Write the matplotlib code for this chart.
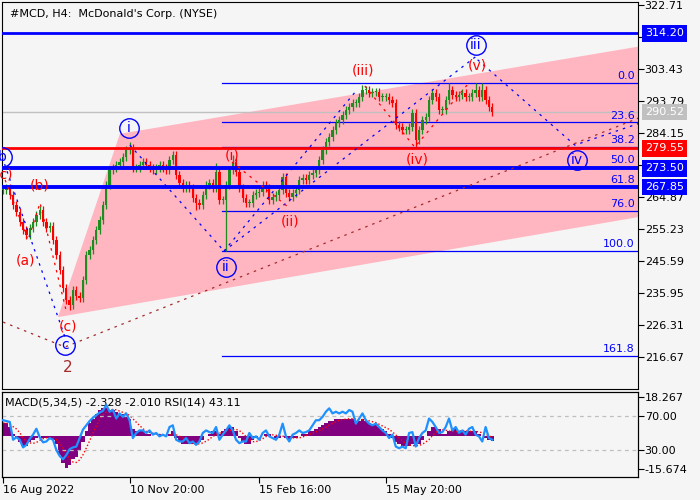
import numpy as np
import pandas as pd
import matplotlib
matplotlib.use("Agg")
import matplotlib.pyplot as plt
from matplotlib.patches import Polygon

# H4 closes, one every ~3 bars
closes = [267.0, 267.6, 265.5, 262.5, 260.4, 257.4, 254.9, 253.4, 255.5, 257.4,
          259.5, 261.0, 257.4, 255.5, 256.2, 251.9, 247.4, 242.9, 237.5, 233.9,
          232.4, 236.9, 235.1, 234.5, 239.9, 247.4, 248.9, 251.9, 254.9, 258.0,
          262.5, 268.5, 273.0, 273.6, 274.5, 275.4, 276.9, 279.0, 279.6, 273.6,
          273.6, 274.5, 275.4, 274.5, 273.6, 273.0, 273.6, 274.5, 273.6, 273.0,
          276.0, 277.5, 271.5, 269.1, 267.6, 268.5, 267.6, 264.6, 263.1, 262.5,
          265.5, 268.5, 269.1, 267.6, 272.4, 264.0, 264.0, 268.5, 273.0, 275.4,
          272.4, 267.6, 264.6, 263.1, 263.1, 265.5, 266.1, 266.4, 268.5, 267.6,
          264.0, 264.9, 265.5, 267.0, 270.9, 266.1, 264.9, 266.1, 267.0, 270.0,
          270.6, 270.0, 271.5, 272.1, 273.0, 276.0, 279.0, 281.5, 283.0, 285.1,
          287.2, 288.1, 289.6, 291.1, 292.0, 293.2, 293.2, 295.0, 297.1, 297.1,
          296.2, 296.5, 296.5, 295.0, 295.0, 295.0, 294.1, 293.2, 286.6, 286.0,
          285.1, 285.1, 286.0, 290.2, 282.1, 285.1, 288.1, 289.0, 294.1, 296.2,
          295.0, 291.1, 291.1, 294.1, 297.1, 295.6, 295.0, 295.6, 296.2, 295.0,
          295.0, 296.2, 297.1, 295.0, 297.1, 294.1, 292.0, 290.5]
spike_lows = {20: 230.8, 67: 248.6, 124: 279.9, 58: 261.0}
spike_highs = {38: 281.4, 51: 278.6, 64: 275.2, 69: 277.6, 108: 298.6,
               134: 299.2, 142: 299.3, 144: 299.2}

macd = [6, 6, 4, 1, -1, -3, -5, -5, -3, -2,
        -1, 0, -1, -1, -1, -2, -4, -9, -13, -15,
        -14, -11, -10, -7, -3, 2, 6, 8, 10, 12,
        13, 13, 12, 12, 11, 10, 10, 9, 8, 3,
        2, 2, 2, 1, 1, 0, 0, 1, 0, 0,
        1, 2, -1, -3, -4, -4, -4, -4, -4, -3,
        -2, 0, 1, 2, 2, 1, 2, 3, 4, 4,
        2, -1, -3, -4, -4, -2, -1, 0, 0, 1,
        1, 0, -1, -1, 0, -1, -2, -1, -1, 0,
        1, 1, 2, 2, 3, 4, 5, 6, 7, 7,
        8, 8, 8, 8, 8, 8, 7, 7, 8, 7,
        6, 5, 5, 4, 3, 2, 1, -1, -3, -4,
        -5, -5, -5, -4, -5, -4, -2, 0, 2, 4,
        4, 3, 1, 1, 2, 3, 3, 2, 2, 2,
        2, 2, 2, 1, 0, -1, -2, -2.3]
rsi = [65, 64, 63, 42, 45, 42, 33, 36, 43, 48,
       55, 45, 39, 40, 44, 42, 30, 23, 19, 24,
       31, 33, 34, 44, 54, 59, 64, 68, 71, 74,
       76, 83, 75, 77, 67, 73, 69, 73, 65, 44,
       50, 53, 53, 50, 53, 48, 50, 46, 48, 46,
       57, 59, 42, 40, 40, 44, 38, 40, 36, 40,
       50, 53, 51, 50, 57, 42, 48, 53, 59, 53,
       42, 38, 40, 40, 50, 44, 46, 42, 50, 53,
       46, 44, 42, 48, 61, 46, 40, 48, 50, 53,
       50, 51, 53, 59, 65, 65, 69, 75, 79, 73,
       75, 73, 75, 73, 77, 75, 61, 67, 73, 65,
       61, 59, 61, 57, 53, 50, 44, 48, 34, 32,
       34, 32, 50, 51, 34, 44, 50, 53, 67, 63,
       57, 50, 51, 57, 67, 53, 57, 50, 53, 48,
       55, 57, 48, 46, 40, 57, 44, 42]

date_pos = [0, 38, 77, 115]
date_labels = ["16 Aug 2022", "10 Nov 20:00", "15 Feb 16:00", "15 May 20:00"]
price_ticks = [322.71, 313.07, 303.43, 293.79, 284.15, 274.51, 264.87,
               255.23, 245.59, 235.95, 226.31, 216.67]

levels = [314.20, 279.55, 273.50, 267.85]
level_colors = ["#0000FF", "#FF0000", "#0000FF", "#0000FF"]
level_widths = [2.0, 2.0, 2.8, 2.8]
last_price = 290.52

fib_start = 65.8
fib_top, fib_bottom = 299.3, 248.5
fib_ratios = [0.0, 23.6, 38.2, 50.0, 61.8, 76.0, 100.0, 161.8]

channel_x = [16.5, 35.1, 200.0, 200.0]
channel_y = [228.7, 283.9, 311.7, 260.4]

blue_waves = [([-0.3, 18.9], [276.9, 221.8]),
              ([38.1, 66.4], [280.5, 248.6]),
              ([66.4, 106.3], [248.6, 297.1]),
              ([66.4, 142.6], [248.6, 307.6]),
              ([142.6, 171.8, 191.3], [306.2, 280.5, 287.1])]
red_waves = [([0.6, 7.5, 11.1, 18.9], [270.0, 251.9, 263.1, 230.8]),
             ([68.8, 85.6], [275.4, 261.9]),
             ([108.7, 123.7, 140.2], [298.3, 279.9, 299.5])]
brown_x = [0.0, 18.6, 191.3]
brown_y = [227.2, 219.7, 288.8]

circle_labels = ["b", "c", "i", "ii", "iii", "iv"]
circle_x = [-0.2, 18.6, 37.8, 67.0, 142.0, 172.4]
circle_y = [276.9, 220.3, 285.7, 243.8, 310.7, 276.0]
red_labels = ["(c)", "(a)", "(b)", "(c)", "(i)", "(ii)", "(iii)", "(iv)", "(v)"]
red_x = [0.3, 6.6, 11.1, 19.5, 68.8, 86.2, 108.1, 124.6, 142.6]
red_y = [271.5, 245.9, 268.2, 226.0, 277.5, 257.4, 303.1, 276.3, 304.6]

bg = "#F5F5F5"
fig = plt.figure(figsize=(7, 5), dpi=100, facecolor=bg)
ax = fig.add_axes([0.003, 0.222, 0.908, 0.774], facecolor=bg)
ax2 = fig.add_axes([0.003, 0.046, 0.908, 0.170], facecolor=bg)

n = len(closes)
x = np.arange(n)
c = np.array(closes)
o = np.r_[c[0], c[:-1]]
hi = np.maximum(o, c) + 1.2
lo = np.minimum(o, c) - 1.2
for k, v in spike_lows.items():
    lo[k] = v
for k, v in spike_highs.items():
    hi[k] = v
up = c >= o
col = np.where(up, "#1E8C1E", "#FF0000")

ax.add_patch(Polygon(list(zip(channel_x, channel_y)), closed=True,
                     fc="#FFB6C1", ec="none", zorder=1))

for r in fib_ratios:
    p = fib_top - (fib_top - fib_bottom) * r / 100
    ax.plot([fib_start, 200], [p, p], color="#0000FF", lw=0.9, zorder=2)
    ax.text(189.8, p + 0.6, f"{r:.1f}", color="#0000FF", fontsize=8,
            ha="right", va="bottom", zorder=6)

ax.axhline(last_price, color="#C0C0C0", lw=1, zorder=2)

ax.vlines(x, lo, hi, colors=col, lw=0.9, zorder=3)
body = np.abs(c - o)
body = np.maximum(body, 0.4)
ax.bar(x, body, bottom=np.minimum(o, c), width=0.7, color=col, zorder=3)

for lv, lc, lw in zip(levels, level_colors, level_widths):
    ax.axhline(lv, color=lc, lw=lw, zorder=4)

for wx, wy in blue_waves:
    ax.plot(wx, wy, color="#0000FF", lw=0.9, ls=(0, (2, 4)), zorder=5)
for wx, wy in red_waves:
    ax.plot(wx, wy, color="#FF0000", lw=0.9, ls=(0, (2, 4)), zorder=5)
ax.plot(brown_x, brown_y, color="#A52A2A", lw=0.9, ls=(0, (2, 4)), zorder=5)

for t, cx, cy in zip(circle_labels, circle_x, circle_y):
    ax.plot(cx, cy, marker="o", ms=14, mfc="none", mec="#0000FF", mew=1, zorder=6)
    ax.text(cx, cy, t, color="#0000FF", fontsize=10, ha="center", va="center", zorder=6)
for t, rx, ry in zip(red_labels, red_x, red_y):
    ax.text(rx, ry, t, color="#FF0000", fontsize=10, ha="center", va="center", zorder=6)
ax.text(19.5, 213.4, "2", color="#A52A2A", fontsize=11, ha="center", va="center", zorder=6)

ax.text(0.012, 0.982, "#MCD, H4:  McDonald's Corp. (NYSE)", transform=ax.transAxes,
        fontsize=8, ha="left", va="top", zorder=7)

ax.set_xlim(-0.3, 190.7)
ax.set_ylim(207.05, 323.6)
ax.yaxis.tick_right()
ax.set_yticks(price_ticks)
ax.set_yticklabels([f"{p:.2f}" for p in price_ticks])
ax.tick_params(axis="y", labelsize=8, length=4, direction="out", pad=1)
ax.set_xticks([])

for val, bc in zip(levels + [last_price], level_colors + ["#C0C0C0"]):
    ax.text(1.0115, val, f"{val:.2f}", transform=ax.get_yaxis_transform(),
            color="white", fontsize=8, ha="left", va="center", zorder=10,
            clip_on=False, bbox=dict(boxstyle="square,pad=0.3", fc=bc, ec="none"))

# indicator window
m = np.array(macd, dtype=float)
sig = pd.Series(m).rolling(5, min_periods=1).mean()
ax2.bar(x, m, width=1.0, color="#800080", zorder=2)
ax2.plot(x, sig, color="#FF0000", lw=1, ls=(0, (1, 1.5)), zorder=3)
ax2.set_ylim(-19.45, 20.6)
ax2.set_xlim(-0.3, 190.7)

ax3 = ax2.twinx()
ax3.set_ylim(-1.8, 98.2)
ax3.axhline(70, color="#BEBEBE", lw=0.9, ls=(0, (3, 3)), zorder=1)
ax3.axhline(30, color="#BEBEBE", lw=0.9, ls=(0, (3, 3)), zorder=1)
ax3.plot(x, rsi, color="#1E90FF", lw=1.6, zorder=4)
ax3.set_yticks([70, 30])
ax3.set_yticklabels(["70.00", "30.00"])
ax3.tick_params(axis="y", labelsize=8, length=4, direction="out", pad=1)
ax3.text(0.005, 0.93, "MACD(5,34,5) -2.328 -2.010 RSI(14) 43.11", transform=ax3.transAxes,
         fontsize=8, ha="left", va="top")

# twinx moved the MACD scale to the left, put it back
ax2.yaxis.tick_right()
ax2.set_yticks([18.267, -15.674])
ax2.set_yticklabels(["18.267", "-15.674"])
ax2.tick_params(axis="y", labelsize=8, length=4, direction="out", pad=1)

ax2.set_xticks(date_pos)
ax2.set_xticklabels(date_labels, ha="left")
ax2.tick_params(axis="x", labelsize=8, length=4, direction="out", pad=2)

plt.savefig("out.png", dpi=100, facecolor=bg)
